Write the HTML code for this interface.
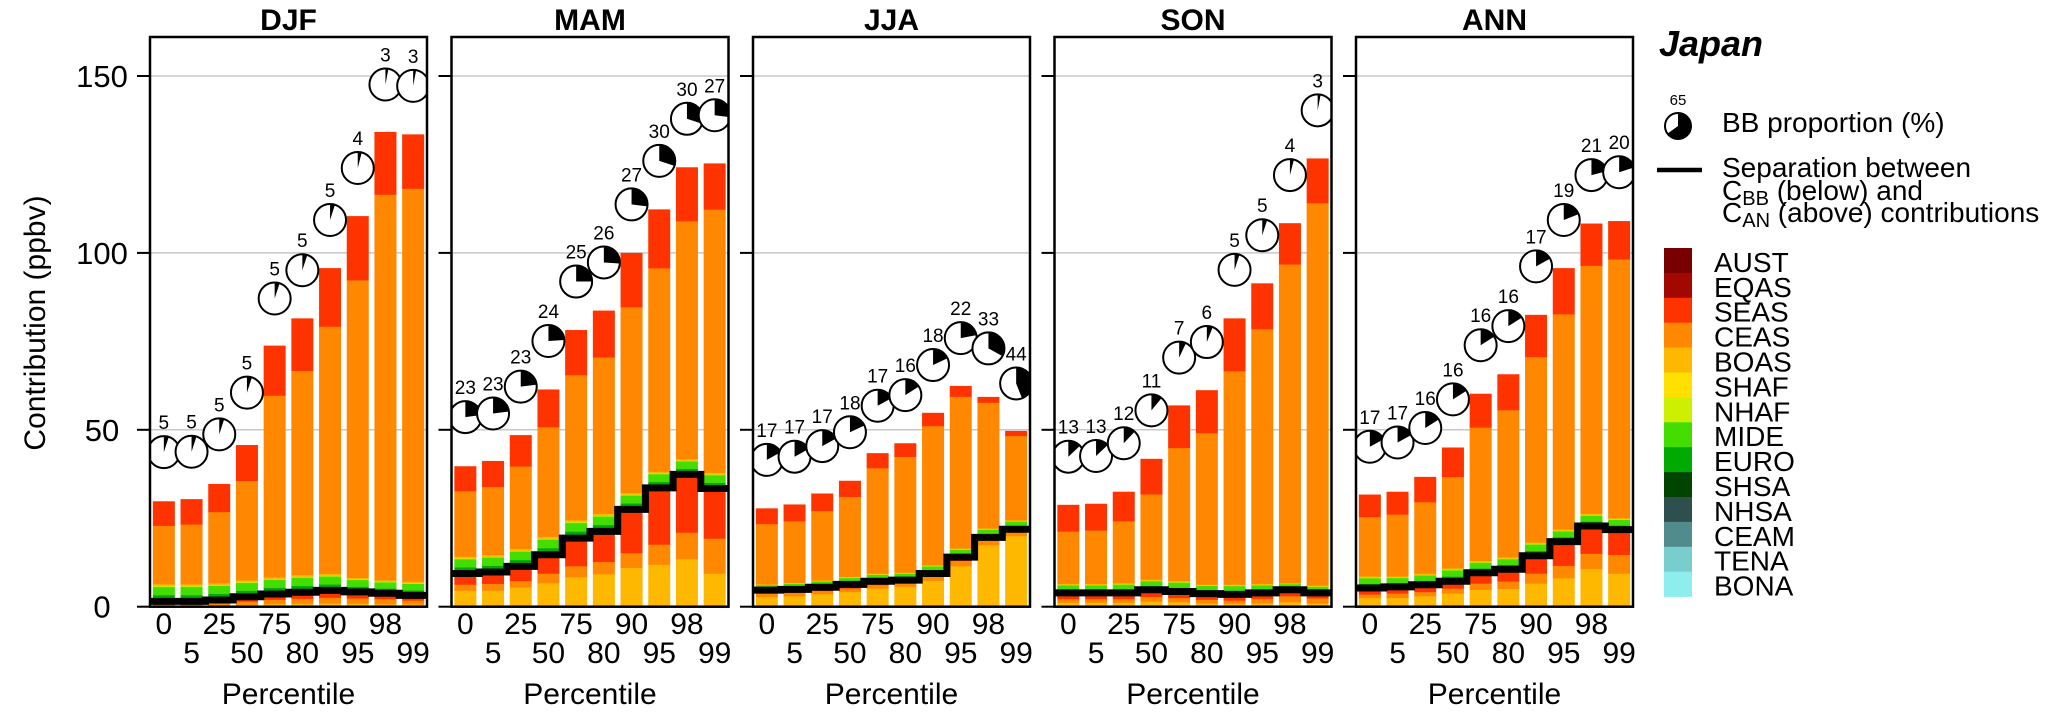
<!DOCTYPE html>
<html><head><meta charset="utf-8">
<style>
html,body{margin:0;padding:0;background:#fff;}
svg{display:block;font-family:"Liberation Sans",Arial,sans-serif;}
</style></head>
<body>
<svg id="chart" width="2067" height="721" viewBox="0 0 2067 721" xmlns="http://www.w3.org/2000/svg">
<defs id="defs"></defs>
<g id="panels"></g>
<text x="0" y="0" transform="translate(45,323) rotate(-90)" text-anchor="middle" font-size="30">Contribution (ppbv)</text>
<g>
  <text x="1659" y="56" font-size="36" font-weight="bold" font-style="italic">Japan</text>
  <text x="1678" y="105" font-size="15" text-anchor="middle">65</text>
  <g>
    <circle cx="1678" cy="126" r="13" fill="#fff" stroke="#000" stroke-width="2"/>
    <path d="M1678,126 L1678,113 A13,13 0 1 1 1667.5,133.6 Z" fill="#000"/>
  </g>
  <text x="1722" y="132" font-size="28">BB proportion (%)</text>
  <line x1="1657" y1="170" x2="1702" y2="170" stroke="#000" stroke-width="4.5"/>
  <text x="1722" y="177" font-size="28">Separation between</text>
  <text x="1722" y="200" font-size="28">C<tspan font-size="20" dy="5">BB</tspan><tspan dy="-5"> (below) and</tspan></text>
  <text x="1722" y="222" font-size="28">C<tspan font-size="20" dy="5">AN</tspan><tspan dy="-5"> (above) contributions</tspan></text>
  <g id="colorLegend"></g>
</g>
</svg>
<script>
const categories = ["0","5","25","50","75","80","90","95","98","99"];
const seasons = ["DJF","MAM","JJA","SON","ANN"];
const regions = ["AUST","EQAS","SEAS","CEAS","BOAS","SHAF","NHAF","MIDE","EURO","SHSA","NHSA","CEAM","TENA","BONA"];
const regionColors = ["#780000","#a30800","#ff3300","#ff8800","#ffb800","#ffe000","#ccf000","#44dd00","#00aa00","#004400","#2f4f4f","#528b8b","#79cdcd","#8eeeee"];
const yTicks = [0,50,100,150];

// cumulative boundaries (ppbv)
const djfBoasBB = [0.3,0.3,0.4,0.6,0.8,0.9,1.0,0.9,0.8,0.7];
const djfCeasBB = [0.8,0.8,1.0,1.5,2.0,2.3,2.6,2.4,2.2,1.8];
const djfLine = [1.5,1.5,1.9,2.8,3.6,4.1,4.6,4.2,3.8,3.2];
const djfGreenTop = [6.4,6.4,6.7,7.5,8.4,9.0,9.3,8.2,7.5,7.1];
const djfCeasTop = [22.9,23.3,26.8,35.6,59.7,66.7,79.2,92.3,116.5,118.2];
const djfTotal = [29.8,30.4,34.7,45.7,73.8,81.5,95.7,110.4,134.2,133.5];
const djfPieY = [43.7,43.8,48.7,60.5,87.1,95.1,109.3,124.0,147.6,147.2];
const djfPct = [5,5,5,5,5,5,5,4,3,3];

const mamBoasBB = [4.6,4.6,5.5,6.7,8.4,9.2,11.0,11.9,13.5,9.4];
const mamCeasBB = [6.3,6.5,7.3,9.4,11.5,12.7,15.2,17.6,21.0,19.3];
const mamLine = [9.4,9.8,11.4,14.7,19.4,21.3,27.5,33.6,37.4,33.4];
const mamGreenTop = [14.2,14.7,16.4,19.8,24.5,26.3,32.2,38.2,41.8,37.9];
const mamCeasTop = [32.7,33.9,39.7,50.8,65.5,70.5,84.7,95.7,109.0,112.3];
const mamTotal = [39.7,41.2,48.5,61.4,78.2,83.7,100.0,112.3,124.2,125.3];
const mamPieY = [53.6,54.6,62.2,75.1,91.9,97.3,113.7,126.0,137.9,138.9];
const mamPct = [23,23,23,24,25,26,27,30,30,27];

const jjaBoasBB = [2.8,3.0,3.6,4.2,5.2,5.7,7.4,11.5,17.4,20.0];
const jjaCeasBB = [3.8,4.0,4.5,5.2,6.2,6.6,8.5,13.0,18.8,21.0];
const jjaLine = [4.7,4.9,5.5,6.3,7.2,7.5,9.4,14.0,19.6,21.9];
const jjaGreenTop = [6.4,6.8,7.5,8.5,9.4,9.7,11.8,16.5,22.2,24.5];
const jjaCeasTop = [23.4,24.2,27.1,31.1,39.2,42.4,51.1,59.4,57.7,48.3];
const jjaTotal = [27.8,28.9,32.0,35.6,43.4,46.2,54.8,62.4,59.3,49.7];
const jjaPieY = [41.5,42.4,45.4,49.3,56.8,59.8,68.3,75.9,73.0,63.1];
const jjaPct = [17,17,17,18,17,16,18,22,33,44];

const sonBoasBB = [1.2,1.2,1.2,1.5,1.3,1.0,0.9,1.0,1.3,1.0];
const sonCeasBB = [2.2,2.2,2.2,2.8,2.5,2.0,1.8,2.3,3.0,2.4];
const sonLine = [3.9,3.9,3.9,4.8,4.3,3.7,3.5,3.9,4.8,3.9];
const sonGreenTop = [6.5,6.5,6.7,7.7,7.3,6.3,6.3,6.5,6.7,6.0];
const sonCeasTop = [21.3,21.6,24.2,31.8,44.9,49.1,66.6,78.5,96.8,114.1];
const sonTotal = [28.8,29.1,32.5,41.8,56.9,61.2,81.5,91.4,108.4,126.7];
const sonPieY = [42.4,42.6,46.2,55.5,70.4,74.8,95.2,105.0,122.0,140.3];
const sonPct = [13,13,12,11,7,6,5,5,4,3];

const annBoasBB = [2.5,2.5,3.0,3.8,4.8,5.1,6.6,8.1,10.7,9.4];
const annCeasBB = [3.5,3.8,4.2,5.2,6.6,7.2,9.4,11.6,15.0,14.7];
const annLine = [5.3,5.6,6.2,7.2,9.6,10.6,14.4,18.4,22.8,21.8];
const annGreenTop = [8.6,8.6,9.4,10.9,13.0,14.0,18.2,21.9,26.3,25.1];
const annCeasTop = [25.4,26.1,29.6,36.7,50.7,55.6,70.6,82.7,96.4,98.2];
const annTotal = [31.7,32.5,36.7,45.0,60.2,65.7,82.5,95.7,108.3,109.0];
const annPieY = [45.2,46.4,50.5,58.6,73.9,79.3,96.2,109.3,122.0,122.8];
const annPct = [17,17,16,16,16,16,17,19,21,20];

const seasonData = [
 [djfBoasBB,djfCeasBB,djfLine,djfGreenTop,djfCeasTop,djfTotal,djfPieY,djfPct],
 [mamBoasBB,mamCeasBB,mamLine,mamGreenTop,mamCeasTop,mamTotal,mamPieY,mamPct],
 [jjaBoasBB,jjaCeasBB,jjaLine,jjaGreenTop,jjaCeasTop,jjaTotal,jjaPieY,jjaPct],
 [sonBoasBB,sonCeasBB,sonLine,sonGreenTop,sonCeasTop,sonTotal,sonPieY,sonPct],
 [annBoasBB,annCeasBB,annLine,annGreenTop,annCeasTop,annTotal,annPieY,annPct]
];

const NS = "http://www.w3.org/2000/svg";
const Y0 = 606.7, PXU = 3.538, PTOP = 37, PW = 277, PSTEP = 301.5, PLEFT0 = 150;
function yScale(v){ return Y0 - v*PXU; }
function panelLeft(i){ return PLEFT0 + i*PSTEP; }
function slotW(){ return PW/categories.length; }
function xCenter(i,j){ return panelLeft(i) + slotW()*(j+0.5); }
function mk(tag, attrs, parent){
  const e = document.createElementNS(NS, tag);
  for (const k in attrs) e.setAttribute(k, attrs[k]);
  parent.appendChild(e);
  return e;
}
const panels = document.getElementById('panels');
const defs = document.getElementById('defs');
const BW = 22;
// green band composition fractions (bottom→top) : SHSA, EURO, MIDE, NHAF, BOAS
const bandColors = ["#004400","#00aa00","#44dd00","#ccf000","#ffb800"];
const bandFrac = [0.12,0.25,0.48,0.05,0.10];

seasons.forEach((s,i)=>{
  const [boas,ceasBB,line,greenTop,ceasTop,total,pieY,pct] = seasonData[i];
  const L = panelLeft(i);
  const cp = mk('clipPath',{id:'clip'+i},defs);
  mk('rect',{x:L,y:PTOP,width:PW,height:Y0-PTOP},cp);
  const g = mk('g',{},panels);
  
  
  const t = mk('text',{x:L+PW/2,y:30,'text-anchor':'middle','font-size':30,'font-weight':'bold'},g);
  
  
  t.textContent = s;
  yTicks.forEach(v=>{
    const y = yScale(v);
    if (v>0){
      const gl = mk('line',{x1:L,x2:L+PW,y1:y,y2:y,stroke:'#c8c8c8','stroke-width':1.5},g);
      
      
    }
    const tk = mk('line',{x1:L-13,x2:L,y1:y,y2:y,stroke:'#000','stroke-width':2},g);
    
    
    if (i===0){
      const tl = mk('text',{x:102,y:y+11,'text-anchor':'middle','font-size':31},g);
      
      
      tl.textContent = v;
    }
  });
  const inner = mk('g',{'clip-path':'url(#clip'+i+')'},g);
  categories.forEach((c,j)=>{
    const bx = xCenter(i,j) - BW/2;
    const bg = mk('g',{},inner);
    
    
    const segs = [[0,boas[j],'#ffb800'],[boas[j],ceasBB[j],'#ff8800'],[ceasBB[j],line[j],'#ff3300']];
    let acc = line[j];
    const band = greenTop[j]-line[j];
    bandFrac.forEach((f,k)=>{ segs.push([acc,acc+band*f,bandColors[k]]); acc += band*f; });
    segs.push([greenTop[j],ceasTop[j],'#ff8800']);
    segs.push([ceasTop[j],total[j],'#ff3300']);
    segs.forEach(sg=>{
      const h = yScale(sg[0]) - yScale(sg[1]);
      if (h<=0) return;
      mk('rect',{x:bx,y:yScale(sg[1]),width:BW,height:h+0.3,fill:sg[2]},bg);
    });
  });
  let d = '';
  categories.forEach((c,j)=>{
    const x0 = L + slotW()*j, x1 = L + slotW()*(j+1);
    const y = yScale(line[j]);
    d += (j===0 ? 'M'+(L-2)+','+y : 'L'+x0+','+y) + ' L'+(j===categories.length-1? x1+2 : x1)+','+y+' ';
  });
  const sl = mk('path',{d:d,fill:'none',stroke:'#000','stroke-width':7,'stroke-linejoin':'miter'},inner);
  
  
  categories.forEach((c,j)=>{
    const cx = xCenter(i,j), cy = yScale(pieY[j]), r = 16;
    const pg = mk('g',{},inner);
    
    
    mk('circle',{cx:cx,cy:cy,r:r,fill:'#fff'},pg);
    const a = pct[j]/100*2*Math.PI;
    const ex = cx + r*Math.sin(a), ey = cy - r*Math.cos(a);
    mk('path',{d:'M'+cx+','+cy+' L'+cx+','+(cy-r)+' A'+r+','+r+' 0 '+(pct[j]>50?1:0)+' 1 '+ex+','+ey+' Z',fill:'#000'},pg);
    mk('circle',{cx:cx,cy:cy,r:r,fill:'none',stroke:'#000','stroke-width':2},pg);
    const lt = mk('text',{x:cx,y:cy-23,'text-anchor':'middle','font-size':19},pg);
    
    
    lt.textContent = pct[j];
  });
  const bd = mk('rect',{x:L,y:PTOP,width:PW,height:Y0-PTOP,fill:'none',stroke:'#000','stroke-width':2.5},g);
  
  
  categories.forEach((c,j)=>{
    const xl = mk('text',{x:xCenter(i,j),y:(j%2===0?634:663),'text-anchor':'middle','font-size':30},g);
    
    
    xl.textContent = c;
  });
  const xt = mk('text',{x:L+PW/2,y:704,'text-anchor':'middle','font-size':30},g);
  
  
  xt.textContent = 'Percentile';
});

const cl = document.getElementById('colorLegend');
const LEG_TOP = 248, LEG_H = 24.9;
regions.forEach((r,k)=>{
  const top = LEG_TOP + k*LEG_H;
  const e = mk('g',{},cl);
  
  
  mk('rect',{x:1664,y:top,width:28,height:LEG_H+0.3,fill:regionColors[k]},e);
  const tx = mk('text',{x:1714,y:top+LEG_H-1,'font-size':28},e);
  tx.textContent = r;
});
</script>
</body></html>
